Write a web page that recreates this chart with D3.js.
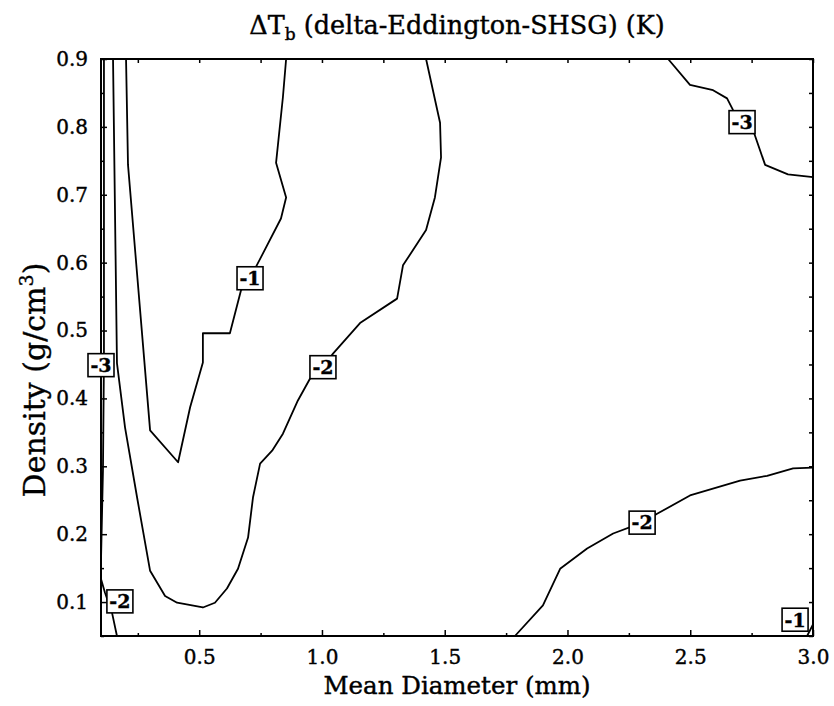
<!DOCTYPE html>
<html>
<head>
<meta charset="utf-8">
<script src="https://cdn.jsdelivr.net/npm/d3@7"></script>
<style>
body { margin: 0; background: #fff; }
text { font-family: "DejaVu Serif", serif; fill: #000; stroke: #000; stroke-width: 0.4px; }
</style>
</head>
<body>
<div id="chart"></div>
<script>
// contour lines, [mean diameter (mm), density (g/cm3)]
const contourM1 = [[0.202,0.9],[0.210,0.744],[0.300,0.353],[0.414,0.306],[0.463,0.387],[0.515,0.453],[0.515,0.496],[0.625,0.496],[0.670,0.559],[0.707,0.577],[0.756,0.611],[0.833,0.665],[0.854,0.696],[0.813,0.747],[0.841,0.844],[0.854,0.9]];
const contourM2 = [[0.149,0.9],[0.165,0.452],[0.198,0.357],[0.247,0.254],[0.300,0.146],[0.361,0.109],[0.410,0.099],[0.515,0.092],[0.564,0.099],[0.613,0.120],[0.658,0.149],[0.699,0.195],[0.719,0.254],[0.748,0.304],[0.797,0.323],[0.841,0.348],[0.902,0.397],[0.951,0.429],[1.004,0.446],[1.045,0.466],[1.155,0.511],[1.306,0.547],[1.330,0.596],[1.424,0.648],[1.460,0.696],[1.485,0.755],[1.481,0.806],[1.424,0.9]];
const contourM3Left = [[0.112,0.9],[0.112,0.456],[0.108,0.294],[0.1,0.161]];
const contourM2LowLeft = [[0.1,0.134],[0.116,0.114],[0.145,0.084],[0.165,0.05]];
const contourM2LowRight = [[1.786,0.05],[1.900,0.095],[1.970,0.149],[2.080,0.179],[2.186,0.201],[2.304,0.217],[2.365,0.230],[2.499,0.257],[2.703,0.279],[2.813,0.286],[2.919,0.297],[3.0,0.298]];
const contourM3Right = [[2.41,0.9],[2.499,0.862],[2.593,0.854],[2.650,0.842],[2.674,0.825],[2.711,0.807],[2.760,0.791],[2.805,0.744],[2.898,0.730],[3.0,0.726]];
const contourM1Corner = [[2.976,0.05],[3.0,0.067]];

// contour labels
const labelText = ['-1', '-2', '-3', '-2', '-2', '-3', '-1'];
const labelX = [0.707, 1.004, 0.1, 0.177, 2.304, 2.711, 2.927];
const labelY = [0.577, 0.446, 0.449, 0.101, 0.217, 0.807, 0.074];

// ticks
const xTicks = [0.5, 1.0, 1.5, 2.0, 2.5, 3.0];
const xMinor = [0.25, 0.75, 1.25, 1.75, 2.25, 2.75];
const yTicks = [0.1, 0.2, 0.3, 0.4, 0.5, 0.6, 0.7, 0.8, 0.9];
const yMinor = [0.05, 0.15, 0.25, 0.35, 0.45, 0.55, 0.65, 0.75, 0.85];

const width = 834, height = 706;
const margin = {top: 59, right: 21, bottom: 70, left: 101};

const svg = d3.select('#chart').append('svg')
    .attr('width', width)
    .attr('height', height);

const x = d3.scaleLinear().domain([0.1, 3.0]).range([margin.left, width - margin.right]);
const y = d3.scaleLinear().domain([0.05, 0.9]).range([height - margin.bottom, margin.top]);

// axes, ticks pointing inward
function styleAxis(g) {
    g.select('.domain').remove();
    g.selectAll('.tick line').attr('stroke', '#000').attr('stroke-width', 1.5);
    g.selectAll('.tick text').style('font-size', '20px');
}

svg.append('g')
    .attr('transform', 'translate(0,' + y.range()[0] + ')')
    .call(d3.axisBottom(x).tickValues(xTicks).tickFormat(d3.format('.1f'))
        .tickSizeInner(-6).tickSizeOuter(0).tickPadding(14))
    .call(styleAxis);
svg.append('g')
    .attr('transform', 'translate(0,' + y.range()[0] + ')')
    .call(d3.axisBottom(x).tickValues(xMinor).tickFormat('').tickSizeInner(-3).tickSizeOuter(0))
    .call(styleAxis);
svg.append('g')
    .attr('transform', 'translate(0,' + y.range()[1] + ')')
    .call(d3.axisTop(x).tickValues(xTicks.concat(xMinor)).tickFormat('').tickSizeInner(-4).tickSizeOuter(0))
    .call(styleAxis);

svg.append('g')
    .attr('transform', 'translate(' + x.range()[0] + ',0)')
    .call(d3.axisLeft(y).tickValues(yTicks).tickFormat(d3.format('.1f'))
        .tickSizeInner(-6).tickSizeOuter(0).tickPadding(13))
    .call(styleAxis);
svg.append('g')
    .attr('transform', 'translate(' + x.range()[0] + ',0)')
    .call(d3.axisLeft(y).tickValues(yMinor).tickFormat('').tickSizeInner(-3).tickSizeOuter(0))
    .call(styleAxis);
svg.append('g')
    .attr('transform', 'translate(' + x.range()[1] + ',0)')
    .call(d3.axisRight(y).tickValues(yTicks.concat(yMinor)).tickFormat('').tickSizeInner(-4).tickSizeOuter(0))
    .call(styleAxis);

// contour lines
const line = d3.line().x(d => x(d[0])).y(d => y(d[1]));
const contours = [contourM1, contourM2, contourM3Left, contourM2LowLeft, contourM2LowRight, contourM3Right, contourM1Corner];
svg.append('g').selectAll('path')
    .data(contours)
    .join('path')
    .attr('d', line)
    .attr('fill', 'none')
    .attr('stroke', '#000')
    .attr('stroke-width', 1.8)
    .attr('stroke-linejoin', 'round');

// frame
svg.append('rect')
    .attr('x', x.range()[0]).attr('y', y.range()[1])
    .attr('width', x.range()[1] - x.range()[0])
    .attr('height', y.range()[0] - y.range()[1])
    .attr('fill', 'none').attr('stroke', '#000').attr('stroke-width', 2);

// contour labels
const labels = svg.append('g').selectAll('g')
    .data(labelText)
    .join('g')
    .attr('transform', (d, i) => 'translate(' + x(labelX[i]) + ',' + y(labelY[i]) + ')');
labels.append('rect')
    .attr('x', -13).attr('y', -11.5).attr('width', 26).attr('height', 23)
    .attr('fill', '#fff').attr('stroke', '#000').attr('stroke-width', 1.6);
labels.append('text')
    .attr('text-anchor', 'middle')
    .attr('dy', '0.36em')
    .style('font-size', '19px')
    .style('font-weight', 'bold')
    .text(d => d);

// titles
const title = svg.append('text')
    .attr('x', (x.range()[0] + x.range()[1]) / 2)
    .attr('y', 34)
    .attr('text-anchor', 'middle')
    .style('font-size', '25.5px');
title.append('tspan').text('\u0394T');
title.append('tspan').attr('dy', 6).style('font-size', '17px').text('b');
title.append('tspan').attr('dy', -6).text(' (delta-Eddington-SHSG) (K)');

svg.append('text')
    .attr('x', (x.range()[0] + x.range()[1]) / 2)
    .attr('y', 694)
    .attr('text-anchor', 'middle')
    .style('font-size', '24.5px')
    .text('Mean Diameter (mm)');

const ylab = svg.append('text')
    .attr('transform', 'translate(45,380) rotate(-90)')
    .attr('text-anchor', 'middle')
    .style('font-size', '30px');
ylab.append('tspan').text('Density (g/cm');
ylab.append('tspan').attr('dy', -12).style('font-size', '19px').text('3');
ylab.append('tspan').attr('dy', 12).text(')');
</script>
</body>
</html>
